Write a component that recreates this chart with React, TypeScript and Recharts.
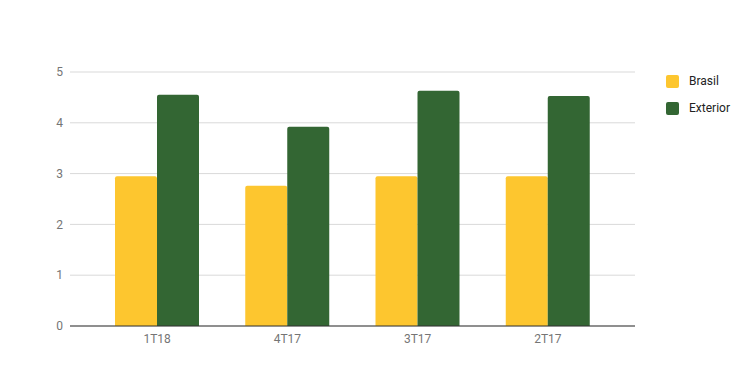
import React from 'react';
import { BarChart, Bar, XAxis, YAxis, CartesianGrid } from 'recharts';

const quarters = ['1T18', '4T17', '3T17', '2T17'];
const brasil = [2.95, 2.76, 2.95, 2.95];
const exterior = [4.55, 3.92, 4.63, 4.53];
const yTicks = [0, 1, 2, 3, 4, 5];

const series = [
  { key: 'brasil', name: 'Brasil', color: '#FDC62F' },
  { key: 'exterior', name: 'Exterior', color: '#336633' },
];

const data = quarters.map((q, i) => ({ q, brasil: brasil[i], exterior: exterior[i] }));

const tickStyle = { fill: '#757575', fontSize: 12 };

const App: React.FC = () => {
  return (
    <div style={{ position: 'absolute', left: 0, top: 0, width: 750, height: 388, background: '#fff', fontFamily: 'Roboto, sans-serif' }}>
      <BarChart
        width={750}
        height={388}
        data={data}
        margin={{ top: 72, right: 115, bottom: 32, left: 0 }}
        barGap={0}
        barSize={42}
      >
        <CartesianGrid vertical={false} stroke="#d9d9d9" />
        <XAxis
          dataKey="q"
          tick={tickStyle}
          tickLine={false}
          tickSize={0}
          tickMargin={8}
          height={30}
          axisLine={{ stroke: '#333', strokeWidth: 1 }}
          padding={{ left: 22, right: 22 }}
        />
        <YAxis
          domain={[0, 5]}
          ticks={yTicks}
          width={70}
          tick={tickStyle}
          tickLine={false}
          tickSize={0}
          tickMargin={7}
          axisLine={false}
        />
        {series.map(s => (
          <Bar key={s.key} dataKey={s.key} name={s.name} fill={s.color} radius={[2, 2, 0, 0]} isAnimationActive={false} />
        ))}
      </BarChart>
      <div style={{ position: 'absolute', left: 666, top: 74 }}>
        {series.map(s => (
          <div key={s.key} style={{ display: 'flex', alignItems: 'center', height: 14, marginBottom: 13 }}>
            <span style={{ width: 13, height: 13, background: s.color, borderRadius: 2, display: 'inline-block' }} />
            <span style={{ marginLeft: 10, fontSize: 12, color: '#222' }}>{s.name}</span>
          </div>
        ))}
      </div>
    </div>
  );
};

export default App;
